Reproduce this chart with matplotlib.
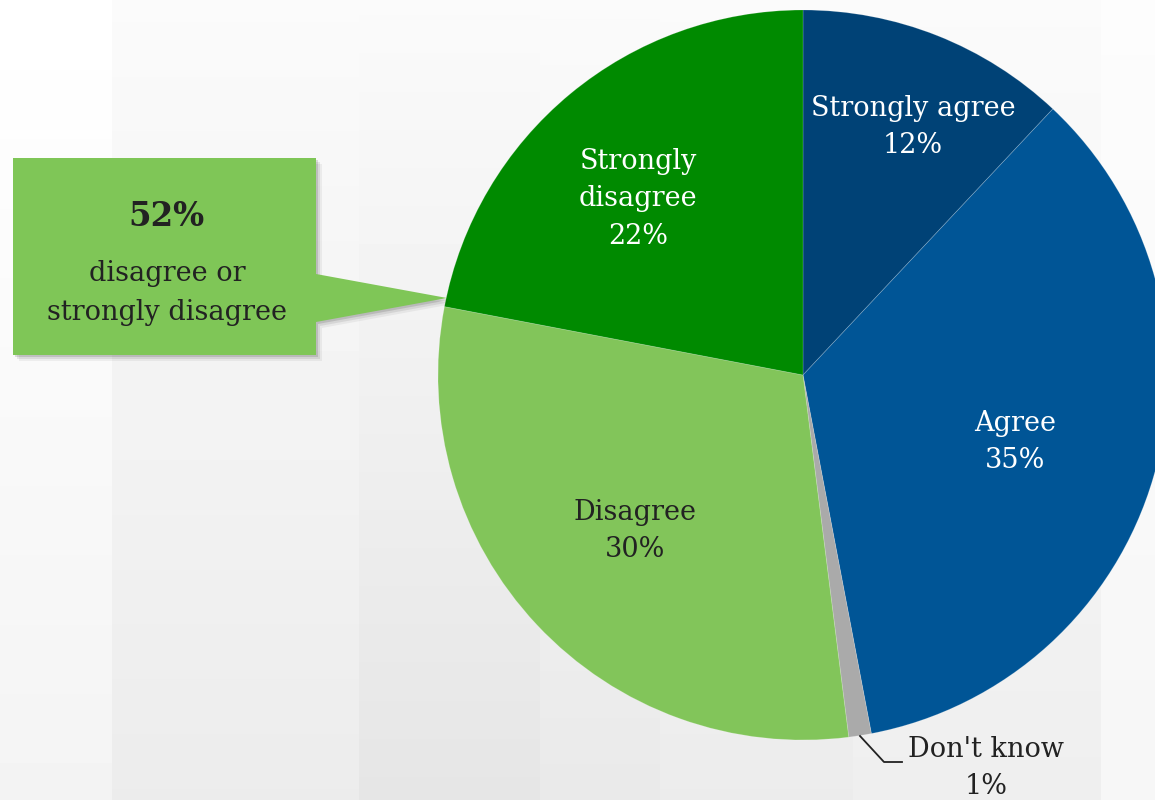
import numpy as np
import matplotlib.pyplot as plt
from matplotlib.patches import Polygon

# survey answers, clockwise from 12 o'clock
categories = ['Strongly agree', 'Agree', "Don't know", 'Disagree', 'Strongly disagree']
shares = [12, 35, 1, 30, 22]
colors = ['#004276', '#005596', '#aaaaaa', '#82c55a', '#008a00']
label_text = ['Strongly agree\n12%', 'Agree\n35%', None, 'Disagree\n30%', 'Strongly\ndisagree\n22%']
callout_value = '52%'
callout_text = 'disagree or\nstrongly disagree'
dont_know_text = "Don't know\n1%"

W, H = 1155, 800
SERIF = ['DejaVu Serif']
FS = 19.5
LS = 1.5

fig = plt.figure(figsize=(W / 100, H / 100), dpi=100)
ax = fig.add_axes([0, 0, 1, 1])


def py(y):
    # pixel row (from top) -> data y
    return H - y


# background: vertical bands, each fading from near-white to light grey
edges = [0, 112, 359, 540, 660, 853, 1101, W]
bottoms = [0.955, 0.925, 0.90, 0.915, 0.925, 0.935, 0.965]
tops = [1.0, 0.982, 0.982, 0.982, 0.982, 0.982, 0.99]
bg = np.zeros((H, W))
t = np.linspace(0, 1, H)[:, None]
for i in range(len(edges) - 1):
    bg[:, edges[i]:edges[i + 1]] = tops[i] + (bottoms[i] - tops[i]) * t
ax.imshow(bg, cmap='gray', vmin=0, vmax=1, extent=(0, W, 0, H), origin='upper',
          zorder=0, interpolation='bilinear')

# pie
cx, cy, r = 803, py(375), 365
wedges, _ = ax.pie(shares, colors=colors, startangle=90, counterclock=False,
                   center=(cx, cy), radius=r, frame=True,
                   wedgeprops=dict(linewidth=0.6, edgecolor=(1, 1, 1, 0.2)))
for w in wedges:
    w.set_zorder(2)

label_pos = [(913, 127), (1015, 442), None, (635, 531), (638, 199)]
label_col = ['white', 'white', None, '#222222', 'white']
for txt, pos, c in zip(label_text, label_pos, label_col):
    if txt is None:
        continue
    ax.text(pos[0], py(pos[1]), txt, ha='center', va='center', color=c,
            fontsize=FS, family=SERIF, linespacing=LS, zorder=3)

# don't know label with leader line
ax.plot([860, 884, 902], [py(736), py(762), py(762)], color='#222222', lw=1.3, zorder=3)
ax.text(986, py(768), dont_know_text, ha='center', va='center', color='#222222',
        fontsize=FS, family=SERIF, linespacing=LS, zorder=3)

# callout box with pointer
box = [(13, 158), (316, 158), (316, 274), (447, 298), (316, 322), (316, 355), (13, 355)]
for k, a in [(6, 0.05), (4, 0.08), (2, 0.12)]:
    sh = Polygon([(x + k, py(y + k)) for x, y in box], closed=True,
                 facecolor='black', alpha=a, edgecolor='none', zorder=3)
    ax.add_patch(sh)
ax.add_patch(Polygon([(x, py(y)) for x, y in box], closed=True,
                     facecolor='#7fc657', edgecolor='none', zorder=4))
ax.text(166, py(217), callout_value, ha='center', va='center', color='#222222',
        fontsize=23.5, fontweight='bold', family=SERIF, zorder=5)
ax.text(167, py(293), callout_text, ha='center', va='center', color='#222222',
        fontsize=FS, family=SERIF, linespacing=1.55, zorder=5)

ax.set_xlim(0, W)
ax.set_ylim(0, H)
ax.set_aspect('auto')
ax.axis('off')

fig.savefig('out.png', dpi=100)
